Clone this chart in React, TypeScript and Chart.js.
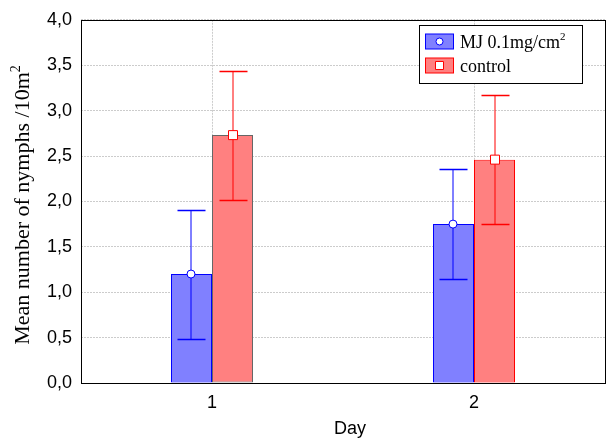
import React, { useEffect, useRef } from 'react';
import { Chart, registerables } from 'chart.js';

Chart.register(...registerables);

const categories = ['1', '2'];
const mjMeans = [1.2, 1.75];
const mjErrors = [0.71, 0.61];
const controlMeans = [2.73, 2.46];
const controlErrors = [0.71, 0.71];
const yMin = 0;
const yMax = 4;
const yStep = 0.5;

const SERIF = '"Liberation Serif", "Times New Roman", serif';
const SANS = '"Liberation Sans", Arial, sans-serif';

function drawSup(ctx: CanvasRenderingContext2D, main: string, sup: string, x: number, y: number, size: number, align: 'left' | 'center') {
  ctx.font = `${size}px ${SERIF}`;
  const w1 = ctx.measureText(main).width;
  ctx.font = `${Math.round(size * 0.62)}px ${SERIF}`;
  const w2 = ctx.measureText(sup).width;
  const start = align === 'center' ? x - (w1 + w2) / 2 : x;
  ctx.textAlign = 'left';
  ctx.textBaseline = 'alphabetic';
  ctx.font = `${size}px ${SERIF}`;
  ctx.fillText(main, start, y);
  ctx.font = `${Math.round(size * 0.62)}px ${SERIF}`;
  ctx.fillText(sup, start + w1, y - size * 0.42);
}

const overlay = {
  id: 'overlay',
  afterDatasetsDraw(chart: any) {
    const ctx: CanvasRenderingContext2D = chart.ctx;
    const ys = chart.scales.y;
    ctx.save();
    chart.data.datasets.forEach((ds: any, i: number) => {
      const meta = chart.getDatasetMeta(i);
      meta.data.forEach((el: any, j: number) => {
        const m = ds.data[j];
        const e = ds.errors[j];
        const xv = Math.round(el.x);
        const x = xv + 0.5;
        const yt = Math.round(ys.getPixelForValue(m + e)) + 0.5;
        const yb = Math.round(ys.getPixelForValue(m - e)) + 0.5;
        const ym = ys.getPixelForValue(m);
        ctx.strokeStyle = ds.errColor;
        ctx.lineWidth = 1;
        ctx.beginPath();
        ctx.moveTo(xv, yt);
        ctx.lineTo(xv, yb);
        ctx.stroke();
        ctx.lineWidth = 1.3;
        ctx.beginPath();
        ctx.moveTo(x - 14, yt);
        ctx.lineTo(x + 14, yt);
        ctx.moveTo(x - 14, yb);
        ctx.lineTo(x + 14, yb);
        ctx.stroke();
        ctx.lineWidth = 1;
        ctx.fillStyle = '#ffffff';
        ctx.beginPath();
        if (ds.marker === 'circle') {
          ctx.arc(xv, ym, 4, 0, Math.PI * 2);
        } else {
          ctx.rect(xv - 4.5, ym - 4.5, 9, 9);
        }
        ctx.fill();
        ctx.stroke();
      });
    });
    ctx.restore();
  },
  afterDraw(chart: any) {
    const ctx: CanvasRenderingContext2D = chart.ctx;
    const a = chart.chartArea;
    ctx.save();
    // frame
    ctx.strokeStyle = '#000000';
    ctx.lineWidth = 1;
    ctx.strokeRect(Math.round(a.left) + 0.5, Math.round(a.top) + 0.5, Math.round(a.right - a.left), Math.round(a.bottom - a.top));

    // legend
    const lx = 419.5, ly = 25.5, lw = 163, lh = 58;
    ctx.fillStyle = '#ffffff';
    ctx.fillRect(lx, ly, lw, lh);
    ctx.strokeStyle = '#000000';
    ctx.strokeRect(lx, ly, lw, lh);
    const rows = [41.5, 65.5];
    chart.data.datasets.forEach((ds: any, i: number) => {
      const cy = rows[i];
      ctx.fillStyle = ds.backgroundColor;
      ctx.strokeStyle = ds.errColor;
      ctx.fillRect(425.5, cy - 7.5, 28, 15);
      ctx.strokeRect(425.5, cy - 7.5, 28, 15);
      ctx.fillStyle = '#ffffff';
      ctx.beginPath();
      if (ds.marker === 'circle') ctx.arc(439.5, cy, 3.5, 0, Math.PI * 2);
      else ctx.rect(435.5, cy - 4, 8, 8);
      ctx.fill();
      ctx.stroke();
      ctx.fillStyle = '#000000';
      if (ds.supLabel) {
        drawSup(ctx, ds.label, ds.supLabel, 460, cy + 6, 18, 'left');
      } else {
        ctx.font = `18px ${SERIF}`;
        ctx.textAlign = 'left';
        ctx.textBaseline = 'alphabetic';
        ctx.fillText(ds.label, 460, cy + 6);
      }
    });

    // axis titles
    ctx.fillStyle = '#000000';
    ctx.font = `18px ${SANS}`;
    ctx.textAlign = 'center';
    ctx.textBaseline = 'middle';
    ctx.fillText('Day', 350, 429);

    ctx.translate(22, 205);
    ctx.rotate(-Math.PI / 2);
    drawSup(ctx, 'Mean number of nymphs /10m', '2', 0, 7, 22, 'center');
    ctx.restore();
  },
};

export default function App() {
  const ref = useRef<HTMLCanvasElement>(null);
  useEffect(() => {
    const chart = new Chart(ref.current as HTMLCanvasElement, {
      type: 'bar',
      data: {
        labels: categories,
        datasets: [
          {
            label: 'MJ 0.1mg/cm',
            supLabel: '2',
            data: mjMeans,
            errors: mjErrors,
            errColor: '#0000ff',
            marker: 'circle',
            backgroundColor: '#8080ff',
            borderColor: ['#0000ff', '#0000ff'],
            borderWidth: 1,
            borderSkipped: false,
          } as any,
          {
            label: 'control',
            data: controlMeans,
            errors: controlErrors,
            errColor: '#ff0000',
            marker: 'square',
            backgroundColor: '#ff8080',
            borderColor: ['#666666', '#ff0000'],
            borderWidth: 1,
            borderSkipped: false,
          } as any,
        ],
      },
      options: {
        responsive: false,
        animation: false,
        layout: { padding: { left: 0, top: 17, right: 3, bottom: 0 } },
        datasets: { bar: { categoryPercentage: 0.313, barPercentage: 1 } },
        plugins: { legend: { display: false }, tooltip: { enabled: false } },
        scales: {
          x: {
            grid: { offset: false, drawTicks: false, color: '#cccccc', lineWidth: 1 } as any,
            border: { display: false, dash: [2, 1] } as any,
            ticks: { color: '#000', font: { family: SANS, size: 18 }, padding: 9 },
            afterFit: (s: any) => { s.height = 57; },
          },
          y: {
            min: yMin,
            max: yMax,
            grid: { drawTicks: false, color: '#cccccc', lineWidth: 1 },
            border: { display: false, dash: [2, 1] } as any,
            ticks: {
              stepSize: yStep,
              color: '#000',
              font: { family: SANS, size: 18 },
              padding: 9,
              callback: (v: any) => Number(v).toFixed(1).replace('.', ','),
            },
            afterFit: (s: any) => { s.width = 81; },
          },
        },
      },
      plugins: [overlay],
    });
    return () => chart.destroy();
  }, []);
  return (
    <div style={{ position: 'fixed', left: 0, top: 0, width: 608, height: 440, background: '#ffffff' }}>
      <canvas ref={ref} width={608} height={440} />
    </div>
  );
}
